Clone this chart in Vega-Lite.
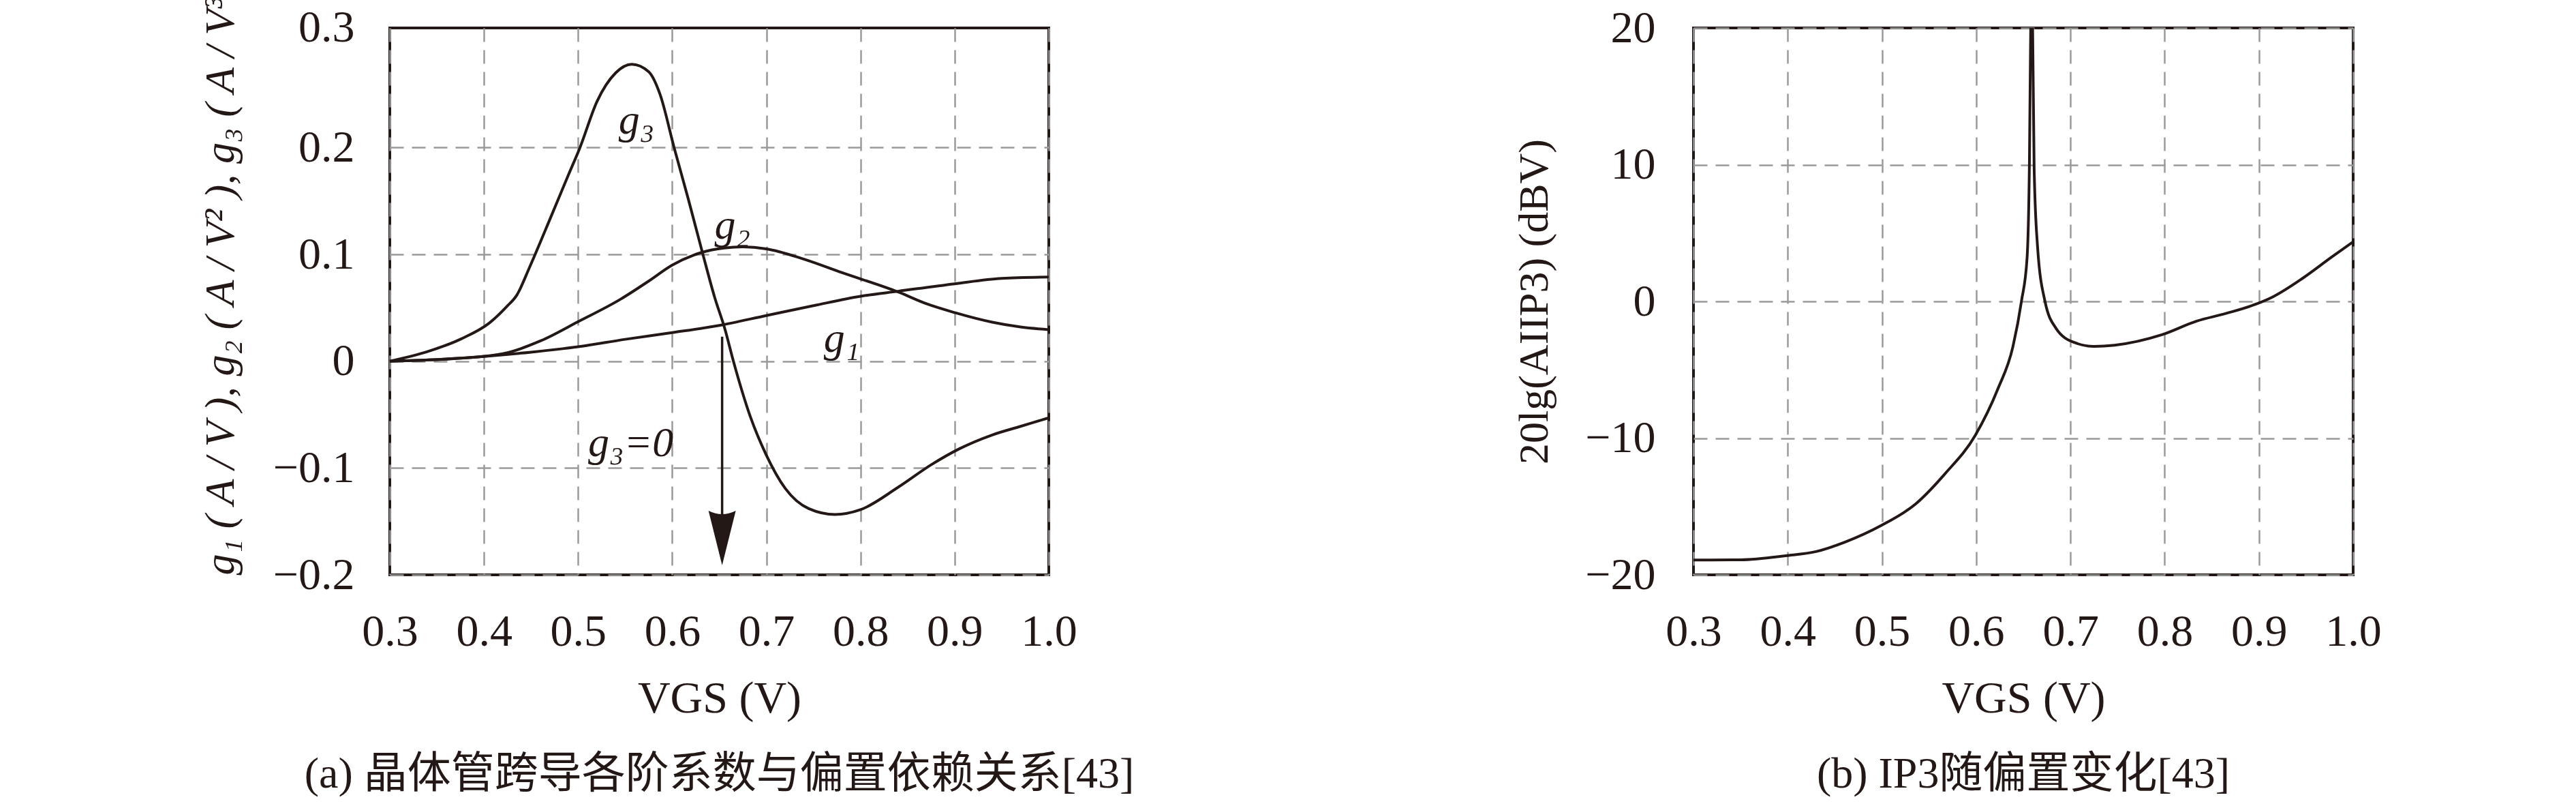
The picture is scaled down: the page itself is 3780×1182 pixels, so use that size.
{
  "$schema": "https://vega.github.io/schema/vega-lite/v6.json",
  "background": "white",
  "autosize": {"type": "pad"},
  "padding": {"left": 290, "top": -52, "right": 0, "bottom": 0},
  "config": {
    "font": "Liberation Serif, Noto Sans CJK SC",
    "view": {"stroke": "#231815", "strokeWidth": 4},
    "axis": {
      "domain": false,
      "ticks": false,
      "labelFont": "Liberation Serif",
      "labelFontSize": 66,
      "labelColor": "#231815",
      "labelFlush": false,
      "labelOverlap": false,
      "labelBound": false,
      "titleFont": "Liberation Serif",
      "titleFontSize": 66,
      "titleFontWeight": "normal",
      "titleColor": "#231815",
      "grid": true,
      "gridColor": "#9a9a9a",
      "gridDash": [20, 12],
      "gridWidth": 2.5
    },
    "title": {
      "font": "Liberation Serif, Noto Sans CJK SC",
      "fontSize": 64,
      "fontWeight": "normal",
      "color": "#231815",
      "orient": "bottom",
      "anchor": "middle",
      "offset": 47
    }
  },
  "bounds": "flush",
  "spacing": 946,
  "hconcat": [
    {
      "width": 967,
      "height": 802,
      "title": {"text": "(a) 晶体管跨导各阶系数与偏置依赖关系[43]"},
      "layer": [
        {
          "data": {"values": [
            {"s":"g1","v":0.3,"y":0},{"s":"g1","v":0.35,"y":0.0015},{"s":"g1","v":0.4,"y":0.0045},{"s":"g1","v":0.45,"y":0.0085},{"s":"g1","v":0.5,"y":0.0135},{"s":"g1","v":0.55,"y":0.0205},{"s":"g1","v":0.6,"y":0.0268},{"s":"g1","v":0.65,"y":0.0335},{"s":"g1","v":0.7,"y":0.0428},{"s":"g1","v":0.75,"y":0.052},{"s":"g1","v":0.8,"y":0.0608},{"s":"g1","v":0.84,"y":0.0655},{"s":"g1","v":0.9,"y":0.0725},{"s":"g1","v":0.95,"y":0.0775},{"s":"g1","v":1.0,"y":0.0788},
            {"s":"g2","v":0.3,"y":0},{"s":"g2","v":0.36,"y":0.002},{"s":"g2","v":0.42,"y":0.007},{"s":"g2","v":0.46,"y":0.019},{"s":"g2","v":0.5,"y":0.037},{"s":"g2","v":0.545,"y":0.058},{"s":"g2","v":0.575,"y":0.075},{"s":"g2","v":0.6,"y":0.09},{"s":"g2","v":0.63,"y":0.1015},{"s":"g2","v":0.655,"y":0.106},{"s":"g2","v":0.675,"y":0.107},{"s":"g2","v":0.7,"y":0.1052},{"s":"g2","v":0.74,"y":0.0955},{"s":"g2","v":0.78,"y":0.083},{"s":"g2","v":0.84,"y":0.0648},{"s":"g2","v":0.87,"y":0.0538},{"s":"g2","v":0.9,"y":0.0455},{"s":"g2","v":0.94,"y":0.0365},{"s":"g2","v":0.97,"y":0.032},{"s":"g2","v":1.0,"y":0.0295},
            {"s":"g3","v":0.3,"y":0},{"s":"g3","v":0.34,"y":0.009},{"s":"g3","v":0.376,"y":0.021},{"s":"g3","v":0.406,"y":0.036},{"s":"g3","v":0.424,"y":0.051},{"s":"g3","v":0.435,"y":0.062},{"s":"g3","v":0.448,"y":0.087},{"s":"g3","v":0.472,"y":0.137},{"s":"g3","v":0.49,"y":0.175},{"s":"g3","v":0.502,"y":0.2},{"s":"g3","v":0.52,"y":0.243},{"s":"g3","v":0.54,"y":0.27},{"s":"g3","v":0.557,"y":0.278},{"s":"g3","v":0.575,"y":0.271},{"s":"g3","v":0.587,"y":0.25},{"s":"g3","v":0.602,"y":0.2},{"s":"g3","v":0.617,"y":0.152},{"s":"g3","v":0.632,"y":0.102},{"s":"g3","v":0.645,"y":0.06},{"s":"g3","v":0.656,"y":0.03},{"s":"g3","v":0.665,"y":0},{"s":"g3","v":0.683,"y":-0.052},{"s":"g3","v":0.7,"y":-0.088},{"s":"g3","v":0.72,"y":-0.119},{"s":"g3","v":0.745,"y":-0.138},{"s":"g3","v":0.773,"y":-0.1435},{"s":"g3","v":0.8,"y":-0.139},{"s":"g3","v":0.84,"y":-0.118},{"s":"g3","v":0.875,"y":-0.097},{"s":"g3","v":0.905,"y":-0.082},{"s":"g3","v":0.94,"y":-0.069},{"s":"g3","v":0.97,"y":-0.061},{"s":"g3","v":1.0,"y":-0.053}
          ]},
          "mark": {"type": "line", "interpolate": "monotone", "color": "#231815", "strokeWidth": 4},
          "encoding": {
            "x": {"field": "v", "type": "quantitative",
                  "scale": {"domain": [0.3, 1.0], "nice": false, "zero": false},
                  "axis": {"values": [0.3,0.4,0.5,0.6,0.7,0.8,0.9,1.0], "format": ".1f", "labelPadding": 51, "title": "VGS (V)", "titlePadding": 33}},
            "y": {"field": "y", "type": "quantitative",
                  "scale": {"domain": [-0.2, 0.312], "nice": false, "zero": false},
                  "axis": {"values": [-0.2,-0.1,0,0.1,0.2,0.3], "format": "~g", "labelPadding": 52,
                           "labelOffset": {"condition": {"test": "datum.value > 0.25", "value": -19}, "value": 0},
                           "gridOpacity": {"condition": {"test": "datum.value > 0.25", "value": 0}, "value": 1},
                           "title": "g₁ ( A / V ), g₂ ( A / V² ), g₃ ( A / V³ )", "titleFontStyle": "italic", "titleFontSize": 62, "titleAnchor": "start", "titlePadding": 45}},
            "detail": {"field": "s"}
          }
        },
        {
          "data": {"values": [{"v": 0.653, "y": 0.023, "y2": -0.16}]},
          "mark": {"type": "rule", "color": "#231815", "strokeWidth": 3.5},
          "encoding": {
            "x": {"field": "v", "type": "quantitative", "scale": {"domain": [0.3, 1.0], "nice": false, "zero": false}},
            "y": {"field": "y", "type": "quantitative", "scale": {"domain": [-0.2, 0.312], "nice": false, "zero": false}},
            "y2": {"field": "y2"}
          }
        },
        {
          "data": {"values": [{"v": 0.653, "y": -0.1655}]},
          "mark": {"type": "point", "shape": "M-0.5,-1 Q0,-0.75 0.5,-1 L0,1 Z", "size": 6400, "filled": true, "color": "#231815", "opacity": 1, "strokeWidth": 0},
          "encoding": {
            "x": {"field": "v", "type": "quantitative", "scale": {"domain": [0.3, 1.0], "nice": false, "zero": false}},
            "y": {"field": "y", "type": "quantitative", "scale": {"domain": [-0.2, 0.312], "nice": false, "zero": false}}
          }
        },
        {
          "data": {"values": [
            {"v": 0.562, "y": 0.225, "t": "g₃"},
            {"v": 0.664, "y": 0.127, "t": "g₂"},
            {"v": 0.78, "y": 0.021, "t": "g₁"},
            {"v": 0.556, "y": -0.077, "t": "g₃=0"}
          ]},
          "mark": {"type": "text", "font": "Liberation Serif", "fontSize": 62, "fontStyle": "italic", "color": "#231815", "align": "center", "baseline": "middle"},
          "encoding": {
            "x": {"field": "v", "type": "quantitative", "scale": {"domain": [0.3, 1.0], "nice": false, "zero": false}},
            "y": {"field": "y", "type": "quantitative", "scale": {"domain": [-0.2, 0.312], "nice": false, "zero": false}},
            "text": {"field": "t"}
          }
        }
      ]
    },
    {
      "width": 968,
      "height": 802,
      "title": {"text": "(b) IP3随偏置变化[43]"},
      "data": {"values": [
        {"v":0.3,"y":-18.92},{"v":0.35,"y":-18.9},{"v":0.398,"y":-18.6},{"v":0.43,"y":-18.3},{"v":0.461,"y":-17.6},{"v":0.499,"y":-16.4},{"v":0.536,"y":-14.8},{"v":0.567,"y":-12.6},{"v":0.599,"y":-9.8},{"v":0.623,"y":-6.4},{"v":0.639,"y":-3.3},{"v":0.648,"y":0},{"v":0.654,"y":3.2},{"v":0.6565,"y":10.3},{"v":0.658,"y":21},{"v":0.6588,"y":23},{"v":0.6597,"y":21},{"v":0.6615,"y":9.7},{"v":0.665,"y":4.1},{"v":0.673,"y":0},{"v":0.685,"y":-2.0},{"v":0.704,"y":-3.0},{"v":0.725,"y":-3.29},{"v":0.747,"y":-3.2},{"v":0.797,"y":-2.44},{"v":0.834,"y":-1.44},{"v":0.865,"y":-0.88},{"v":0.898,"y":-0.17},{"v":0.915,"y":0.34},{"v":0.946,"y":1.67},{"v":0.977,"y":3.23},{"v":1.0,"y":4.36}
      ]},
      "mark": {"type": "line", "interpolate": "monotone", "color": "#231815", "strokeWidth": 4, "clip": true},
      "encoding": {
        "x": {"field": "v", "type": "quantitative",
              "scale": {"domain": [0.3, 1.0], "nice": false, "zero": false},
              "axis": {"values": [0.3,0.4,0.5,0.6,0.7,0.8,0.9,1.0], "format": ".1f", "labelPadding": 51, "title": "VGS (V)", "titlePadding": 33}},
        "y": {"field": "y", "type": "quantitative",
              "scale": {"domain": [-20, 20], "nice": false, "zero": false},
              "axis": {"values": [-20,-10,0,10,20], "format": "d", "labelPadding": 56,
                       "title": "20lg(AIIP3)  (dBV)", "titleFontSize": 62, "titlePadding": 42}}
      }
    }
  ]
}
